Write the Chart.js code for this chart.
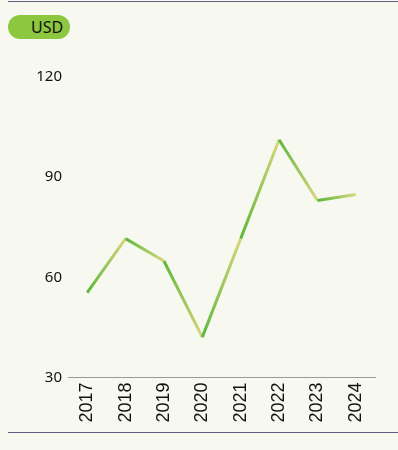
<!DOCTYPE html>
<html>
<head>
<meta charset="utf-8">
<script src="https://cdn.jsdelivr.net/npm/chart.js@4/dist/chart.umd.min.js"></script>
<style>
  html, body { margin: 0; padding: 0; background: #f7f9f0; }
  #wrap { position: relative; width: 398px; height: 450px; overflow: hidden; background: #f7f9f0; }
  #topRule { position: absolute; left: 8px; right: 0; top: 1px; height: 1px; background: #5d6080; }
  #bottomRule { position: absolute; left: 8px; right: 0; top: 432px; height: 1px; background: #5d6080; }
  #unit {
    position: absolute; left: 8px; top: 15px; width: 62px; height: 24px;
    border-radius: 12px; background: #8dc63f; color: #111;
    font: 16px "Noto Sans", sans-serif; line-height: 24px;
    box-sizing: border-box; padding-left: 23px;
  }
  canvas { position: absolute; left: 0; top: 0; }
</style>
</head>
<body>
<div id="wrap">
  <div id="topRule"></div>
  <div id="unit">USD</div>
  <canvas id="chart" width="398" height="450"></canvas>
  <div id="bottomRule"></div>
</div>
<script>
// Yearly values (USD)
const years = ['2017', '2018', '2019', '2020', '2021', '2022', '2023', '2024'];
const values = [55.4, 71.6, 64.9, 42.1, 71.6, 101.2, 83, 84.8];
const yTicks = [30, 60, 90, 120];

const canvas = document.getElementById('chart');
const g2d = canvas.getContext('2d');

// each segment fades from green at its start to pale yellow at its end
function segmentGradient(ctx) {
  const grad = g2d.createLinearGradient(ctx.p0.x, ctx.p0.y, ctx.p1.x, ctx.p1.y);
  grad.addColorStop(0, '#5cb83c');
  grad.addColorStop(1, '#d8d67c');
  return grad;
}

new Chart(canvas, {
  type: 'line',
  data: {
    labels: years,
    datasets: [{
      data: values,
      borderWidth: 3,
      borderColor: '#5cb83c',
      tension: 0,
      pointRadius: 0,
      pointHoverRadius: 0,
      fill: false,
      segment: { borderColor: segmentGradient }
    }]
  },
  options: {
    responsive: false,
    animation: false,
    events: [],
    layout: { padding: { top: 77, right: 23, bottom: 0, left: 0 } },
    plugins: { legend: { display: false }, tooltip: { enabled: false } },
    scales: {
      x: {
        offset: true,
        grid: { display: false, drawTicks: false },
        border: { display: true, color: '#9a9a9a', width: 1 },
        ticks: {
          minRotation: 90, maxRotation: 90, autoSkip: false, padding: 5,
          color: '#111',
          font: { family: '"Liberation Sans Narrow", "Liberation Sans", sans-serif', size: 18 }
        },
        afterFit: s => { s.height = 72.5; }
      },
      y: {
        min: yTicks[0],
        max: yTicks[yTicks.length - 1],
        afterBuildTicks: s => { s.ticks = yTicks.map(v => ({ value: v })); },
        grid: { display: false, drawTicks: false },
        border: { display: false },
        ticks: {
          padding: 6,
          color: '#111',
          font: { family: '"Noto Sans", sans-serif', size: 15 }
        },
        afterFit: s => { s.width = 68; }
      }
    }
  }
});
</script>
</body>
</html>
